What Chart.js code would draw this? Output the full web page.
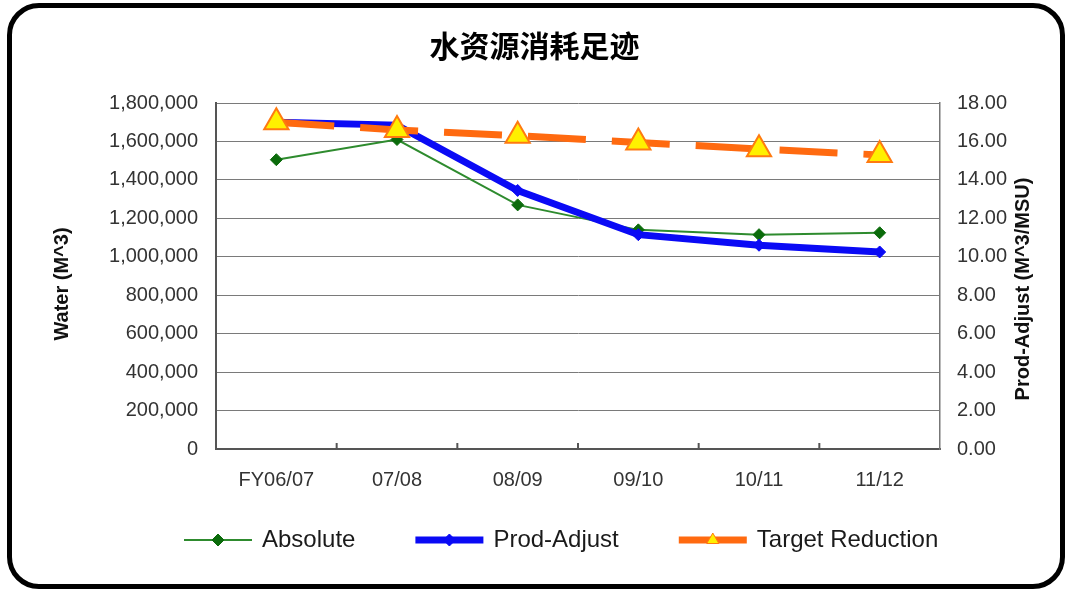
<!DOCTYPE html>
<html>
<head>
<meta charset="utf-8">
<script src="https://cdn.jsdelivr.net/npm/chart.js@4.4.0/dist/chart.umd.min.js"></script>
<style>
  html, body { margin: 0; padding: 0; background: #fff; }
  #wrap { position: relative; width: 1069px; height: 592px; }
  #frame {
    position: absolute; left: 7px; top: 3px; width: 1058px; height: 586px;
    box-sizing: border-box; border: 5px solid #000; border-radius: 32px;
    pointer-events: none;
  }
  canvas { position: absolute; left: 0; top: 0; }
</style>
</head>
<body>
<div id="wrap">
  <canvas id="chart" width="1069" height="592"></canvas>
  <div id="frame"></div>
</div>
<script>
// 数据
const categories = ['FY06/07', '07/08', '08/09', '09/10', '10/11', '11/12'];
const absolute = [1505000, 1610000, 1270000, 1140000, 1115000, 1125000];
const prodAdjust = [17.0, 16.85, 13.45, 11.15, 10.6, 10.25];
const targetReduction = [17.0, 16.6, 16.3, 15.95, 15.6, 15.3];
const waterTicks = [0, 200000, 400000, 600000, 800000, 1000000, 1200000, 1400000, 1600000, 1800000];
const ratioTicks = [0, 2, 4, 6, 8, 10, 12, 14, 16, 18];

const FONT = '"Liberation Sans", Arial, sans-serif';
const tickFont = { family: FONT, size: 20 };

// 轴标题（竖排，自下而上）
const axisTitles = {
  id: 'axisTitles',
  afterDraw(chart) {
    const ctx = chart.ctx;
    const mid = (chart.chartArea.top + chart.chartArea.bottom) / 2;
    ctx.save();
    ctx.font = 'bold 20px ' + FONT;
    ctx.fillStyle = '#111';
    ctx.textAlign = 'center';
    ctx.textBaseline = 'middle';
    [[62, mid + 8, 'Water (M^3)'], [1023, mid + 13, 'Prod-Adjust (M^3/MSU)']].forEach(([x, y, t]) => {
      ctx.save();
      ctx.translate(x, y);
      ctx.rotate(-Math.PI / 2);
      ctx.fillText(t, 0, 0);
      ctx.restore();
    });
    ctx.restore();
  }
};

// X轴刻度线（类别之间，朝内）
const xTickMarks = {
  id: 'xTickMarks',
  afterDatasetsDraw(chart) {
    const ctx = chart.ctx;
    const xs = chart.scales.x;
    const bottom = chart.chartArea.bottom;
    ctx.save();
    ctx.strokeStyle = '#555';
    ctx.lineWidth = 2;
    for (let i = 1; i < categories.length; i++) {
      const x = (xs.getPixelForValue(i - 1) + xs.getPixelForValue(i)) / 2;
      ctx.beginPath();
      ctx.moveTo(x, bottom);
      ctx.lineTo(x, bottom - 6);
      ctx.stroke();
    }
    ctx.restore();
  }
};

function drawShape(ctx, style, x, y, r) {
  if (style === 'triangle') {
    const w = r * Math.sqrt(3) / 2;
    ctx.moveTo(x, y - r);
    ctx.lineTo(x + w, y + r / 2);
    ctx.lineTo(x - w, y + r / 2);
    ctx.closePath();
  } else {
    ctx.moveTo(x, y - r);
    ctx.lineTo(x + r, y);
    ctx.lineTo(x, y + r);
    ctx.lineTo(x - r, y);
    ctx.closePath();
  }
}

// 图例
const customLegend = {
  id: 'customLegend',
  afterDraw(chart) {
    const ctx = chart.ctx;
    const y = 540;
    const sample = 68;
    let x = 184;
    ctx.save();
    ctx.font = '24px ' + FONT;
    ctx.textBaseline = 'middle';
    ctx.textAlign = 'left';
    chart.data.datasets.forEach(ds => {
      ctx.save();
      ctx.strokeStyle = ds.borderColor;
      ctx.lineWidth = ds.borderWidth;
      ctx.beginPath();
      ctx.moveTo(x, y);
      ctx.lineTo(x + sample, y);
      ctx.stroke();
      ctx.restore();
      const r = ds.pointStyle === 'triangle' ? 7 : ds.pointRadius;
      ctx.fillStyle = ds.pointBackgroundColor;
      ctx.strokeStyle = ds.pointBorderColor;
      ctx.lineWidth = 1;
      ctx.beginPath();
      drawShape(ctx, ds.pointStyle, x + sample / 2, y, r);
      ctx.fill();
      ctx.stroke();
      ctx.fillStyle = '#1a1a1a';
      const tx = x + sample + 10;
      ctx.fillText(ds.label, tx, y);
      x = tx + ctx.measureText(ds.label).width + 60;
    });
    ctx.restore();
  }
};

new Chart(document.getElementById('chart'), {
  type: 'line',
  data: {
    labels: categories,
    datasets: [
      {
        label: 'Absolute',
        data: absolute,
        yAxisID: 'y',
        borderColor: '#2E8B2E',
        borderWidth: 2,
        pointStyle: 'rectRot',
        pointRadius: 6,
        pointBackgroundColor: '#0B6B0B',
        pointBorderColor: '#0B6B0B',
        pointBorderWidth: 1,
        order: 3
      },
      {
        label: 'Prod-Adjust',
        data: prodAdjust,
        yAxisID: 'y1',
        borderColor: '#0A0AF5',
        borderWidth: 7,
        pointStyle: 'rectRot',
        pointRadius: 6,
        pointBackgroundColor: '#0A0AF5',
        pointBorderColor: '#0A0AF5',
        pointBorderWidth: 1,
        order: 2
      },
      {
        label: 'Target Reduction',
        data: targetReduction,
        yAxisID: 'y1',
        borderColor: '#FF6A10',
        borderWidth: 7,
        borderDash: [58, 26],
        pointStyle: 'triangle',
        pointRadius: 14,
        pointBackgroundColor: '#FFF000',
        pointBorderColor: '#FF7A10',
        pointBorderWidth: 2,
        order: 1
      }
    ]
  },
  options: {
    responsive: false,
    animation: false,
    events: [],
    layout: { padding: { top: 28, left: 0, right: 0, bottom: 0 } },
    plugins: {
      legend: { display: false },
      tooltip: { enabled: false },
      title: {
        display: true,
        text: '水资源消耗足迹',
        color: '#000',
        font: { family: '"Noto Sans CJK SC", sans-serif', size: 30, weight: 'bold' },
        padding: { top: 0, bottom: 39 }
      }
    },
    scales: {
      x: {
        offset: true,
        grid: { display: false, drawTicks: false },
        border: { display: true, color: '#555', width: 2 },
        ticks: { font: tickFont, color: '#333', padding: 19, maxRotation: 0 },
        afterFit(s) { s.height = 143; }
      },
      y: {
        position: 'left',
        min: waterTicks[0],
        max: waterTicks[waterTicks.length - 1],
        afterBuildTicks(s) { s.ticks = waterTicks.map(v => ({ value: v })); },
        ticks: {
          font: tickFont, color: '#333', padding: 18,
          callback: v => v.toLocaleString('en-US')
        },
        grid: { color: '#7a7a7a', lineWidth: 1, drawTicks: false },
        border: { display: true, color: '#555', width: 2 },
        afterFit(s) { s.width = 216; }
      },
      y1: {
        position: 'right',
        min: ratioTicks[0],
        max: ratioTicks[ratioTicks.length - 1],
        afterBuildTicks(s) { s.ticks = ratioTicks.map(v => ({ value: v })); },
        ticks: {
          font: tickFont, color: '#333', padding: 17,
          callback: v => v.toFixed(2)
        },
        grid: { drawOnChartArea: false, drawTicks: false },
        border: { display: true, color: '#777', width: 1.5 },
        afterFit(s) { s.width = 129; }
      }
    }
  },
  plugins: [axisTitles, xTickMarks, customLegend]
});
</script>
</body>
</html>
